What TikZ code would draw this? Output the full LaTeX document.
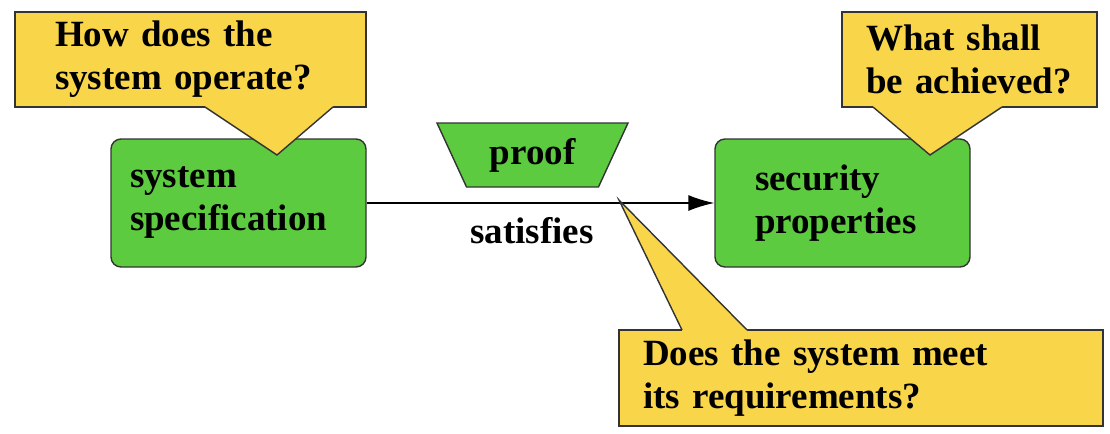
\documentclass[tikz,border=0pt]{standalone}
\usepackage{fontspec}
\setmainfont{Liberation Serif}
\usepackage{tikz}
\usetikzlibrary{shapes.geometric, arrows.meta, positioning, calc}
\definecolor{partgreen}{HTML}{5DCB40}
\definecolor{questyellow}{HTML}{F9D54A}
\definecolor{edgegray}{HTML}{333333}
\tikzset{
  lbl/.style={font=\bfseries\fontsize{18.5}{21.5}\selectfont},
  partbox/.style={lbl, draw=edgegray, line width=0.7pt, fill=partgreen, rounded corners=5pt, align=left, minimum height=64pt},
  questbox/.style={lbl, draw=edgegray, line width=0.7pt, fill=questyellow, align=left, minimum height=47.5pt},
  pointer/.style={draw=edgegray, line width=0.7pt, line join=miter}
}

\begin{document}
\begin{tikzpicture}[x=0.5pt, y=-0.5pt]
\useasboundingbox (0,0) rectangle (1110,434);
% Parts
\node[partbox, inner xsep=9.5pt, text width=108.5pt] (spec) at (238.5,203) {system\\specification};
\node[partbox, inner xsep=20pt, text width=87.5pt] (secprop) at (842.5,203) {security\\properties};
\node[lbl, trapezium, trapezium angle=58, trapezium stretches body, shape border rotate=180, draw=edgegray, line width=0.7pt,
      fill=partgreen, minimum width=95.5pt, minimum height=32pt] (proof) at (532.5,155) {proof};
% Relation
\draw[line width=0.7pt, -{Latex[length=13pt, width=8pt]}] (spec.east) -- (secprop.west);
\node[lbl] (sat) at (532,231) {satisfies};
% Questions
\node[questbox, minimum height=47.5pt, inner xsep=20pt, text width=135.5pt] (q1) at (190.5,59.5) {How does the\\system operate?};
\fill[questyellow] (205,105) -- (205,107) -- (277,155) -- (333,107) -- (333,105) -- cycle;
\draw[pointer] (205,107) -- (277,155) -- (333,107);
\node[questbox, minimum height=47.5pt, inner xsep=12pt, text width=103.5pt] (q2) at (969.5,59.5) {What shall\\be achieved?};
\fill[questyellow] (873,105) -- (873,107) -- (930,155) -- (1002,107) -- (1002,105) -- cycle;
\draw[pointer] (873,107) -- (930,155) -- (1002,107);
\node[questbox, minimum height=48pt, inner xsep=12pt, text width=218pt] (q3) at (861,378) {Does the system meet\\its requirements?};
\fill[questyellow] (682,332) -- (682,330) -- (619,200) -- (747,330) -- (747,332) -- cycle;
\draw[pointer] (682,330) -- (619,200) -- (747,330);
\end{tikzpicture}
\end{document}
